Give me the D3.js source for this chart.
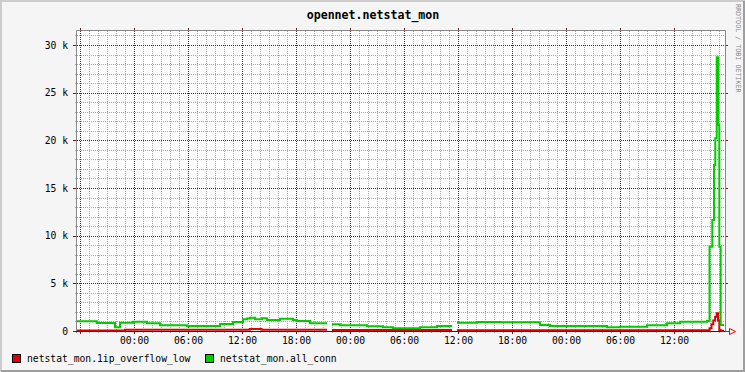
<!DOCTYPE html>
<html>
<head>
<meta charset="utf-8">
<script src="https://cdn.jsdelivr.net/npm/d3@7"></script>
<style>
  body { margin: 0; background: #f5f5f5; }
  svg { display: block; }
  text { font-family: "DejaVu Sans Mono", monospace; }
</style>
</head>
<body>
<svg id="chart"></svg>
<script>
// graph window: 3 days ending at 17:40
const startTime = Date.UTC(2012, 0, 1, 17, 40);
const spanHours = 72;
const endHour = 71.89; // last sample

// netstat_mon.all_conn, step values (hour offset from start, value), null = no data
const connHours = [0, 2.19, 4.22, 4.78, 6.22, 7.78, 9.22, 12.22, 15.89, 17.33, 18.44, 18.89,
  19.22, 19.78, 20.56, 21.11, 22.56, 24.0, 24.44, 25.89, 27.78, 28.33, 29.22, 32.22, 34.0,
  35.11, 38.11, 40.0, 41.67, 42.22, 44.44, 47.0, 51.44, 52.56, 58.89, 60.33, 63.33, 65.56,
  67.0, 70.0, 70.28, 70.59, 70.78, 70.92, 71.08, 71.22, 71.37, 71.52];
const connValues = [1010, 840, 390, 870, 980, 800, 600, 520, 730, 940, 1220, 1300,
  1400, 1230, 1330, 1150, 1290, 1150, 1050, 800, null, 700, 600, 490, 390,
  280, 390, 520, null, 870, 940, 910, 630, 520, 390, 450, 600, 800,
  975, 1050, 8840, 11640, 17410, 20210, 28710, 21610, 8840, 630];

// netstat_mon.1ip_overflow_low
const overflowHours = [0, 5.33, 19.2, 20.5, 27.78, 28.33, 41.67, 42.22, 70.28, 70.5, 70.7,
  70.9, 71.08, 71.22, 71.37, 71.52];
const overflowValues = [60, 120, 220, 120, null, 100, null, 80, 300, 700, 1100,
  1500, 1850, 1100, 100, 30];

const yMajorTicks = [0, 5000, 10000, 15000, 20000, 25000, 30000];
const yMinorStep = 1000;

const seriesNames = ['netstat_mon.1ip_overflow_low', 'netstat_mon.all_conn'];
const seriesColors = ['#e00000', '#00cc00'];

const W = 745;
const H = 372;
const plot = { left: 77, right: 725, top: 31, bottom: 331 };

const svg = d3.select('#chart').attr('width', W).attr('height', H);

// background and 3d frame
svg.append('rect').attr('width', W).attr('height', H).attr('fill', '#f5f5f5');
svg.append('path').attr('d', `M1,${H} V1 H${W}`).attr('stroke', '#cccccc').attr('stroke-width', 2).attr('fill', 'none');
svg.append('path').attr('d', `M${W - 1},1 V${H - 1} H1`).attr('stroke', '#9e9e9e').attr('stroke-width', 2).attr('fill', 'none');

svg.append('rect')
  .attr('x', plot.left).attr('y', plot.top)
  .attr('width', plot.right - plot.left).attr('height', plot.bottom - plot.top)
  .attr('fill', '#ffffff');

const x = d3.scaleUtc()
  .domain([new Date(startTime), new Date(startTime + spanHours * 3600e3)])
  .range([plot.left, plot.right]);

const y = d3.scaleLinear()
  .domain([0, 30000])
  .range([plot.bottom, 45]);

const px = (v) => Math.round(v) + 0.5;

// grid
const grid = svg.append('g');
const minorX = x.ticks(d3.utcHour.every(1));
const majorX = x.ticks(d3.utcHour.every(6));
const maxY = y.invert(plot.top);
const minorY = d3.range(0, maxY, yMinorStep);
const minorColor = '#a8a8a8';
const majorColor = '#801515';

grid.selectAll('.minor-x').data(minorX).join('line')
  .attr('x1', (d) => px(x(d))).attr('x2', (d) => px(x(d)))
  .attr('y1', plot.top).attr('y2', plot.bottom)
  .attr('stroke', minorColor).attr('stroke-dasharray', '1,1');
grid.selectAll('.minor-y').data(minorY).join('line')
  .attr('y1', (d) => px(y(d))).attr('y2', (d) => px(y(d)))
  .attr('x1', plot.left).attr('x2', plot.right)
  .attr('stroke', minorColor).attr('stroke-dasharray', '1,1');

// minor ticks outside frame
grid.selectAll('.minor-x-tick').data(minorX).join('line')
  .attr('x1', (d) => px(x(d))).attr('x2', (d) => px(x(d)))
  .attr('y1', plot.bottom).attr('y2', plot.bottom + 2)
  .attr('stroke', minorColor);
grid.selectAll('.minor-y-tick').data(minorY).join('line')
  .attr('y1', (d) => px(y(d))).attr('y2', (d) => px(y(d)))
  .attr('x1', plot.left - 2).attr('x2', plot.left)
  .attr('stroke', minorColor);

grid.selectAll('.major-x').data(majorX).join('line')
  .attr('x1', (d) => px(x(d))).attr('x2', (d) => px(x(d)))
  .attr('y1', plot.top).attr('y2', plot.bottom)
  .attr('stroke', majorColor).attr('stroke-dasharray', '1,1');
grid.selectAll('.major-y').data(yMajorTicks.slice(1)).join('line')
  .attr('y1', (d) => px(y(d))).attr('y2', (d) => px(y(d)))
  .attr('x1', plot.left).attr('x2', plot.right)
  .attr('stroke', majorColor).attr('stroke-dasharray', '1,1');

// major ticks outside frame
grid.selectAll('.major-x-tick').data(majorX).join('path')
  .attr('d', (d) => `M${px(x(d))},${plot.top - 3}V${plot.top}M${px(x(d))},${plot.bottom}V${plot.bottom + 3}`)
  .attr('stroke', majorColor);
grid.selectAll('.major-y-tick').data(yMajorTicks).join('path')
  .attr('d', (d) => `M${plot.left - 4},${px(y(d))}H${plot.left}M${plot.right},${px(y(d))}H${plot.right + 3}`)
  .attr('stroke', majorColor);

// frame
svg.append('path')
  .attr('d', `M${plot.left - 0.5},${plot.bottom + 2} V${plot.top - 0.5} H${plot.right + 0.5} V${plot.bottom}`)
  .attr('stroke', '#888').attr('fill', 'none');

// data lines (step)
function stepPoints(hours, values) {
  const pts = [];
  hours.forEach((h, i) => {
    const next = i < hours.length - 1 ? hours[i + 1] : endHour;
    const v = values[i];
    pts.push({ t: new Date(startTime + h * 3600e3), v });
    pts.push({ t: new Date(startTime + next * 3600e3), v });
  });
  return pts;
}

const line = d3.line()
  .defined((d) => d.v !== null)
  .x((d) => x(d.t))
  .y((d) => y(d.v));

// x axis line + arrow
svg.append('line')
  .attr('x1', plot.left - 1).attr('x2', plot.right + 4)
  .attr('y1', px(y(0))).attr('y2', px(y(0)))
  .attr('stroke', '#222');

[[overflowHours, overflowValues], [connHours, connValues]].forEach(([h, v], i) => {
  svg.append('path')
    .datum(stepPoints(h, v))
    .attr('d', line)
    .attr('fill', 'none')
    .attr('stroke', seriesColors[i])
    .attr('stroke-width', 2)
    .attr('stroke-linejoin', 'miter');
});

svg.append('path')
  .attr('d', `M${plot.right},${px(y(0))}H${plot.right + 4}`)
  .attr('stroke', '#ff0000');
svg.append('path')
  .attr('d', `M${plot.right + 4.5},${px(y(0)) - 3}L${plot.right + 10.5},${px(y(0))}L${plot.right + 4.5},${px(y(0)) + 3}Z`)
  .attr('stroke', '#ff0000').attr('fill', 'none');

// axis labels
const labelTicks = majorX.filter((d) => x(d) - 15 >= plot.left);
const xAxis = svg.append('g')
  .attr('transform', `translate(0,${plot.bottom})`)
  .call(d3.axisBottom(x).tickValues(labelTicks).tickFormat(d3.utcFormat('%H:%M')).tickSize(0));
xAxis.select('.domain').remove();
xAxis.selectAll('text')
  .attr('y', 12.5).attr('dy', null)
  .attr('font-family', '"DejaVu Sans Mono", monospace')
  .attr('font-size', '9.7px').attr('fill', '#000');

const yAxis = svg.append('g')
  .attr('transform', `translate(${plot.left},0)`)
  .call(d3.axisLeft(y).tickValues(yMajorTicks)
    .tickFormat((d) => (d === 0 ? '0' : `${d / 1000} k`)).tickSize(0));
yAxis.select('.domain').remove();
yAxis.selectAll('text')
  .attr('x', -9).attr('dy', '0.34em')
  .attr('font-family', '"DejaVu Sans Mono", monospace')
  .attr('font-size', '9.7px').attr('fill', '#000');

// title
svg.append('text')
  .attr('x', 373).attr('y', 19)
  .attr('text-anchor', 'middle')
  .attr('font-size', '11.6px').attr('font-weight', 'bold')
  .text('opennet.netstat_mon');

// watermark
svg.append('text')
  .attr('transform', 'translate(735.5,4) rotate(90)')
  .attr('font-size', '6.7px').attr('fill', '#888')
  .text('RRDTOOL / TOBI OETIKER');

// legend
const legendX = [12, 205];
seriesNames.forEach((name, i) => {
  svg.append('rect')
    .attr('x', legendX[i] + 0.5).attr('y', 354.5)
    .attr('width', 8).attr('height', 8)
    .attr('fill', seriesColors[i]).attr('stroke', '#000');
  svg.append('text')
    .attr('x', legendX[i] + 15).attr('y', 361.5)
    .attr('font-size', '9.7px')
    .text(name);
});
</script>
</body>
</html>
